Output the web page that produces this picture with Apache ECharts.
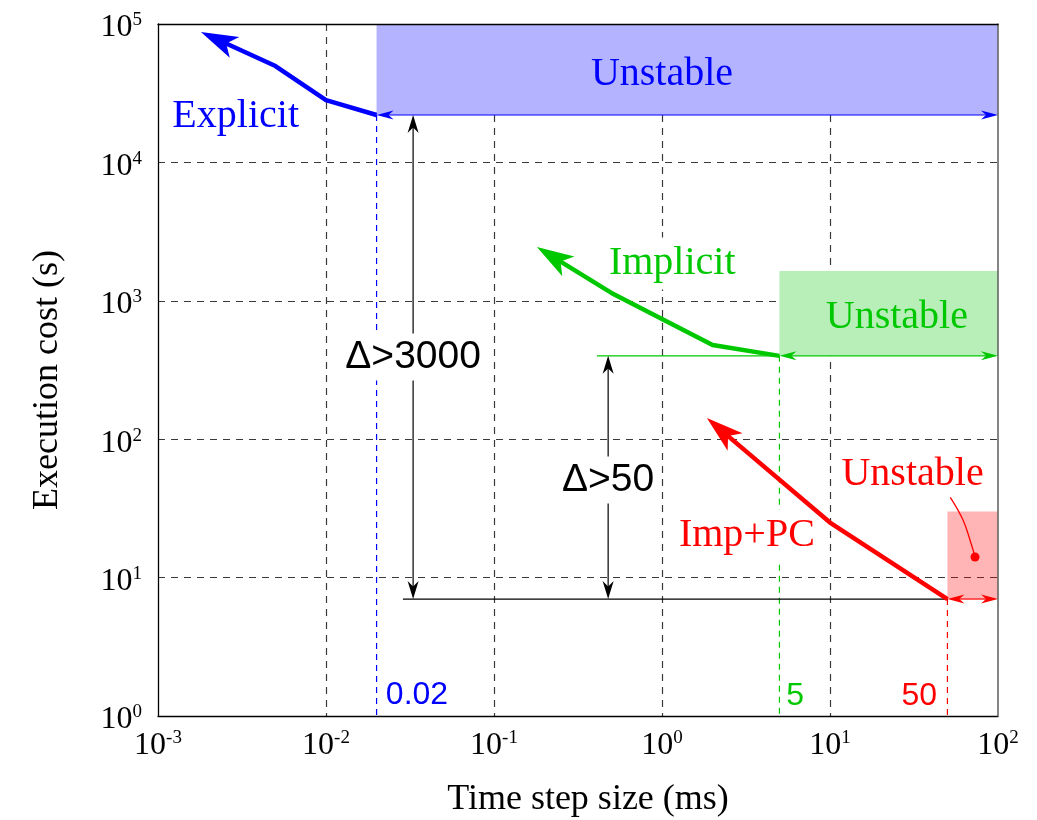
<!DOCTYPE html>
<html>
<head>
<meta charset="utf-8">
<script src="https://cdn.jsdelivr.net/npm/echarts@6/dist/echarts.min.js"></script>
<style>
  html, body { margin: 0; padding: 0; background: #fff; }
  #chart { width: 1037px; height: 820px; }
</style>
</head>
<body>
<div id="chart"></div>
<script>
// Time step size (ms) and execution cost (s) along each scheme,
// starting at its stability limit and heading to smaller steps.
const explicitStep = [0.02, 0.01, 0.005, 0.0018];
const explicitCost = [22000, 28200, 49700, 87500];
const implicitStep = [5, 2, 0.5, 0.18];
const implicitCost = [400, 479, 1140, 2450];
const impPcStep = [50, 10, 1.85];
const impPcCost = [7, 25, 142];

// Stability limit of each scheme (ms), cost at that limit (s)
const limitStep = [0.02, 5, 50];
const limitCost = [22000, 400, 7];
const limitText = ['0.02', '5', '50'];
// Upper cost edge of each unstable band
const unstableTop = [100000, 1640, 30];

// Axis ranges and tick exponents
const stepRange = [0.001, 100];
const costRange = [1, 100000];
const xTickExponents = ['-3', '-2', '-1', '0', '1', '2'];
const yTickExponents = ['0', '1', '2', '3', '4', '5'];

// Cost gaps between the explicit / implicit limits and the Imp+PC limit
const gapText = ['Δ>3000', 'Δ>50'];
const gapStep = [0.033, 0.478];
const gapFrom = [22000, 400];
const gapTo = [7, 7];
const gapTextCost = [392, 50.7];
// Guide lines at the compared cost levels
const baseGuideStep = [0.0287, 50];     // at 7 s
const implicitGuideStep = [0.41, 5];    // at 400 s

// Label anchors, in axis units
const schemeNames = ['Explicit', 'Implicit', 'Imp+PC'];
const schemeNameStep = [0.0029, 1.15, 3.2];
const schemeNameCost = [21500, 1860, 20];
const unstableText = ['Unstable', 'Unstable', 'Unstable'];
const unstableTextStep = [1, 25, 31];
const unstableTextCost = [43500, 755, 55.5];
const limitTextStep = [0.0348, 6.2, 34];
const limitTextCost = [1.42, 1.4, 1.4];
// Leader from the red "Unstable" label into its band
const leaderStep = [52, 62, 69, 73];
const leaderCost = [38, 26, 17.8, 14.1];

// ---- styles ----
const BLUE = '#0000ff', GREEN = '#00c800', RED = '#ff0000', INK = '#000000';
const schemeColor = [BLUE, GREEN, RED];
const bandFill = ['#b3b3ff', '#b8eeb8', 'rgba(255,0,0,0.29)'];
const SERIF = '"Liberation Serif", "Times New Roman", serif';
const SANS = '"Liberation Sans", Arial, sans-serif';

// Stealth-style arrow head: polygon points plus the point where the shaft should stop
function arrowHead(tip, from, len, half, notch) {
  const dx = tip[0] - from[0], dy = tip[1] - from[1];
  const d = Math.hypot(dx, dy) || 1;
  const ux = dx / d, uy = dy / d, px = -uy, py = ux;
  const bx = tip[0] - ux * len, by = tip[1] - uy * len;
  return {
    points: [
      [tip[0], tip[1]],
      [bx + px * half, by + py * half],
      [tip[0] - ux * len * notch, tip[1] - uy * len * notch],
      [bx - px * half, by - py * half]
    ],
    base: [tip[0] - ux * len * notch * 0.85, tip[1] - uy * len * notch * 0.85]
  };
}

// Thick scheme curve ending in an arrow head
function curveSeries(name, xs, ys, color) {
  return {
    type: 'custom', name: name, coordinateSystem: 'cartesian2d', z: 6, clip: false, silent: true,
    data: xs.map((x, i) => [x, ys[i]]),
    encode: { x: 0, y: 1 },
    renderItem(params, api) {
      if (params.dataIndex !== 0) return null;
      const pts = xs.map((x, i) => api.coord([x, ys[i]]));
      const n = pts.length;
      const h = arrowHead(pts[n - 1], pts[n - 2], 37, 11.5, 0.75);
      return {
        type: 'group',
        children: [
          { type: 'polyline', shape: { points: pts.slice(0, n - 1).concat([h.base]) },
            style: { stroke: color, lineWidth: 4.5, fill: null, lineJoin: 'round' } },
          { type: 'polygon', shape: { points: h.points }, style: { fill: color } }
        ]
      };
    }
  };
}

// Thin straight segments, optionally with heads at both ends
function segmentSeries(rows, colors, opt) {
  return {
    type: 'custom', coordinateSystem: 'cartesian2d', z: opt.z || 3, clip: false, silent: true,
    data: rows,
    encode: { x: [0, 2], y: [1, 3] },
    renderItem(params, api) {
      const a = api.coord([api.value(0), api.value(1)]);
      const b = api.coord([api.value(2), api.value(3)]);
      const color = colors[params.dataIndex];
      const children = [];
      let p0 = a, p1 = b;
      if (opt.head) {
        const hb = arrowHead(b, a, opt.head[0], opt.head[1], 0.7);
        const ha = arrowHead(a, b, opt.head[0], opt.head[1], 0.7);
        p0 = ha.base; p1 = hb.base;
        children.push({ type: 'polygon', shape: { points: ha.points }, style: { fill: color } });
        children.push({ type: 'polygon', shape: { points: hb.points }, style: { fill: color } });
      }
      children.unshift({
        type: 'line',
        shape: { x1: p0[0], y1: p0[1], x2: p1[0], y2: p1[1] },
        style: { stroke: color, lineWidth: opt.width, lineDash: opt.dash || null, fill: null }
      });
      return { type: 'group', children: children };
    }
  };
}

// Text placed at axis coordinates
function textSeries(texts, xs, ys, colors, font, z, boxed) {
  return {
    type: 'custom', coordinateSystem: 'cartesian2d', z: z, clip: false, silent: true,
    data: xs.map((x, i) => [x, ys[i]]),
    encode: { x: 0, y: 1 },
    renderItem(params, api) {
      const p = api.coord([api.value(0), api.value(1)]);
      const style = {
        text: texts[params.dataIndex], fill: colors[params.dataIndex], font: font,
        align: 'center', verticalAlign: 'middle'
      };
      if (boxed) { style.backgroundColor = '#ffffff'; style.padding = boxed; }
      return { type: 'text', x: p[0], y: p[1], style: style };
    }
  };
}

function powerLabel(exps, first) {
  return v => {
    const idx = Math.round(Math.log10(v)) - Math.round(Math.log10(first));
    return '{b|10}{s|' + exps[idx] + '}';
  };
}
const tickRich = {
  b: { fontFamily: SERIF, fontSize: 32, color: '#000', lineHeight: 34 },
  s: { fontFamily: SERIF, fontSize: 19, color: '#000', verticalAlign: 'top', lineHeight: 20 }
};
const gridDash = { show: true, showMinLine: false, showMaxLine: false,
  lineStyle: { color: '#3a3a3a', width: 1.2, type: [7, 6] } };

const bands = limitStep.map((s, i) => [s, limitCost[i], stepRange[1], unstableTop[i]]);

const chart = echarts.init(document.getElementById('chart'), null, { renderer: 'canvas' });
chart.setOption({
  animation: false,
  backgroundColor: '#ffffff',
  grid: { left: 158, right: 39, top: 24, bottom: 104, containLabel: false, outerBoundsMode: 'none' },
  xAxis: [
    {
      type: 'log', logBase: 10, min: stepRange[0], max: stepRange[1], position: 'bottom',
      name: 'Time step size (ms)', nameLocation: 'middle', nameGap: 66,
      nameTextStyle: { fontFamily: SERIF, fontSize: 36, color: '#000', padding: [0, 0, 0, 20] },
      axisLine: { show: true, lineStyle: { color: INK, width: 1.3 } },
      axisTick: { show: false }, minorTick: { show: false },
      axisLabel: { margin: 13, formatter: powerLabel(xTickExponents, stepRange[0]), rich: tickRich },
      splitLine: gridDash
    },
    {
      type: 'log', logBase: 10, min: stepRange[0], max: stepRange[1], position: 'top', z: 10,
      axisLine: { show: true, lineStyle: { color: INK, width: 1.3 } },
      axisTick: { show: false }, axisLabel: { show: false }, splitLine: { show: false }
    }
  ],
  yAxis: [
    {
      type: 'log', logBase: 10, min: costRange[0], max: costRange[1], position: 'left',
      name: 'Execution cost (s)', nameLocation: 'middle', nameGap: 92,
      nameTextStyle: { fontFamily: SERIF, fontSize: 36, color: '#000', padding: [0, 20, 0, 0] },
      axisLine: { show: true, lineStyle: { color: INK, width: 1.3 } },
      axisTick: { show: false }, minorTick: { show: false },
      axisLabel: { margin: 16, padding: [8, 0, 0, 0], formatter: powerLabel(yTickExponents, costRange[0]), rich: tickRich },
      splitLine: gridDash
    },
    {
      type: 'log', logBase: 10, min: costRange[0], max: costRange[1], position: 'right', z: 10,
      axisLine: { show: true, lineStyle: { color: '#666', width: 1.6 } },
      axisTick: { show: false }, axisLabel: { show: false }, splitLine: { show: false }
    }
  ],
  series: [
    // unstable bands
    {
      type: 'custom', coordinateSystem: 'cartesian2d', z: 2, clip: false, silent: true,
      data: bands, encode: { x: [0, 2], y: [1, 3] },
      renderItem(params, api) {
        const a = api.coord([api.value(0), api.value(1)]);
        const b = api.coord([api.value(2), api.value(3)]);
        return { type: 'rect', shape: { x: a[0], y: b[1], width: b[0] - a[0], height: a[1] - b[1] },
                 style: { fill: bandFill[params.dataIndex] } };
      }
    },
    // stability limits dropped to the axis
    segmentSeries(limitStep.map((s, i) => [s, limitCost[i], s, costRange[0]]), schemeColor,
      { width: 1.2, dash: [6, 5], z: 3 }),
    // unstable ranges, limit to axis end
    segmentSeries(limitStep.map((s, i) => [s, limitCost[i], stepRange[1], limitCost[i]]), schemeColor,
      { width: 1.2, head: [17, 4.5], z: 3 }),
    // guide lines at the compared cost levels
    segmentSeries([[baseGuideStep[0], limitCost[2], baseGuideStep[1], limitCost[2]]], [INK], { width: 1.2, z: 3 }),
    segmentSeries([[implicitGuideStep[0], limitCost[1], implicitGuideStep[1], limitCost[1]]], [GREEN], { width: 1.2, z: 3 }),
    // cost gap arrows
    segmentSeries(gapStep.map((s, i) => [s, gapFrom[i], s, gapTo[i]]), [INK, INK], { width: 1.2, head: [18, 5.5], z: 3 }),
    // labels
    textSeries(gapText, gapStep, gapTextCost, [INK, INK], '39px ' + SANS, 4, [4, 6, 4, 6]),
    textSeries(schemeNames, schemeNameStep, schemeNameCost, schemeColor, '40px ' + SERIF, 4, [6, 6, 6, 6]),
    textSeries(unstableText, unstableTextStep, unstableTextCost, schemeColor, '40px ' + SERIF, 4, null),
    textSeries(limitText, limitTextStep, limitTextCost, schemeColor, '32px ' + SANS, 4, null),
    // leader into the red band
    {
      type: 'custom', coordinateSystem: 'cartesian2d', z: 5, clip: false, silent: true,
      data: leaderStep.map((x, i) => [x, leaderCost[i]]), encode: { x: 0, y: 1 },
      renderItem(params, api) {
        if (params.dataIndex !== 0) return null;
        const pts = leaderStep.map((x, i) => api.coord([x, leaderCost[i]]));
        const end = pts[pts.length - 1];
        return { type: 'group', children: [
          { type: 'polyline', shape: { points: pts, smooth: 0.4 }, style: { stroke: RED, lineWidth: 1.3, fill: null } },
          { type: 'circle', shape: { cx: end[0], cy: end[1], r: 4.5 }, style: { fill: RED } }
        ] };
      }
    },
    // scheme curves
    curveSeries('Explicit', explicitStep, explicitCost, BLUE),
    curveSeries('Implicit', implicitStep, implicitCost, GREEN),
    curveSeries('Imp+PC', impPcStep, impPcCost, RED)
  ]
});
</script>
</body>
</html>
